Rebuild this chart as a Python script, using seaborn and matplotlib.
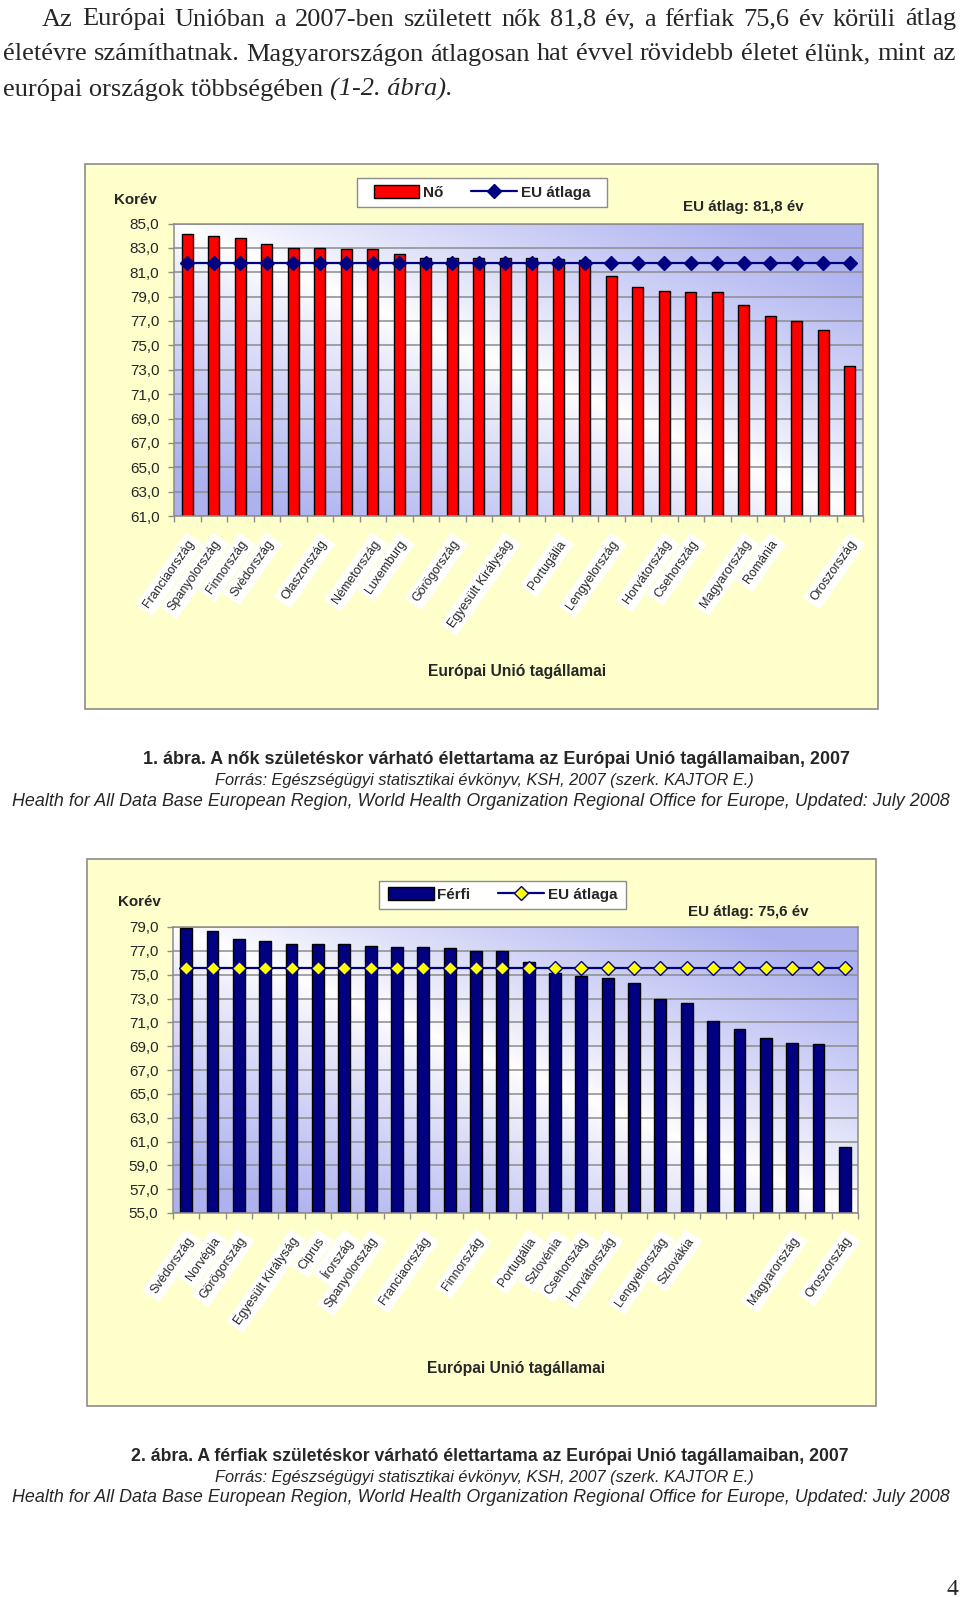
import numpy as np
import pandas as pd
import matplotlib
matplotlib.use('Agg')
import matplotlib.pyplot as plt
import seaborn as sns
from matplotlib.patches import Rectangle, Patch
from matplotlib.lines import Line2D
from matplotlib.ticker import FuncFormatter

# ---- data ----
women_countries = ['Franciaország', 'Spanyolország', 'Finnország', 'Svédország', 'Ausztria',
                   'Olaszország', 'Belgium', 'Németország', 'Luxemburg', 'Hollandia',
                   'Görögország', 'Írország', 'Egyesült Királyság', 'Ciprus', 'Portugália',
                   'Szlovénia', 'Lengyelország', 'Dánia', 'Horvátország', 'Csehország',
                   'Szlovákia', 'Magyarország', 'Románia', 'Bulgária', 'Lettország',
                   'Oroszország']
women_values = [84.1, 84.0, 83.8, 83.3, 83.0, 83.0, 82.9, 82.9, 82.5, 82.2,
                82.2, 82.2, 82.2, 82.2, 82.1, 82.0, 80.7, 79.8, 79.5, 79.4,
                79.4, 78.3, 77.4, 77.0, 76.3, 73.3]
women_ticklabels = ['Franciaország', 'Spanyolország', 'Finnország', 'Svédország', '',
                    'Olaszország', '', 'Németország', 'Luxemburg', '',
                    'Görögország', '', 'Egyesült Királyság', '', 'Portugália',
                    '', 'Lengyelország', '', 'Horvátország', 'Csehország',
                    '', 'Magyarország', 'Románia', '', '',
                    'Oroszország']
women_eu_avg = 81.8

men_countries = ['Svédország', 'Norvégia', 'Görögország', 'Olaszország', 'Egyesült Királyság',
                 'Ciprus', 'Írország', 'Spanyolország', 'Ausztria', 'Franciaország',
                 'Németország', 'Finnország', 'Belgium', 'Portugália', 'Szlovénia',
                 'Csehország', 'Horvátország', 'Dánia', 'Lengyelország', 'Szlovákia',
                 'Bulgária', 'Románia', 'Észtország', 'Magyarország', 'Lettország',
                 'Oroszország']
men_values = [78.9, 78.7, 78.0, 77.8, 77.6, 77.6, 77.6, 77.4, 77.3, 77.3,
              77.2, 77.0, 77.0, 76.1, 75.1, 74.9, 74.7, 74.3, 73.0, 72.6,
              71.1, 70.4, 69.7, 69.3, 69.2, 60.5]
men_ticklabels = ['Svédország', 'Norvégia', 'Görögország', '', 'Egyesült Királyság',
                  'Ciprus', 'Írország', 'Spanyolország', '', 'Franciaország',
                  '', 'Finnország', '', 'Portugália', 'Szlovénia',
                  'Csehország', 'Horvátország', '', 'Lengyelország', 'Szlovákia',
                  '', '', '', 'Magyarország', '',
                  'Oroszország']
men_eu_avg = 75.6

W, H = 960, 1597
sns.set_theme(style='white')
SANS = ['Liberation Sans', 'DejaVu Sans']
SERIF = ['Liberation Serif', 'DejaVu Serif']
plt.rcParams['font.family'] = SANS

fig = plt.figure(figsize=(W / 100, H / 100), dpi=100)
fig.patch.set_facecolor('white')
renderer = fig.canvas.get_renderer()


def fx(x):
    return x / W


def fy(y):
    return 1 - y / H


def width_of(t):
    return t.get_window_extent(renderer).width


def fit_text(cx, y, s, width, **kw):
    t = fig.text(fx(cx), fy(y), s, ha='center', va='baseline', fontsize=10, **kw)
    t.set_fontsize(10 * width / width_of(t))
    return t


def frame(l, t, r, b):
    fig.add_artist(Rectangle((fx(l), fy(b)), (r - l) / W, (b - t) / H, transform=fig.transFigure,
                             facecolor='#FFFFCC', edgecolor='#8C8C8C', lw=1.2, zorder=-5))


# ---- paragraph at the top (justified) ----
para = ['Az Európai Unióban a 2007-ben született nők 81,8 év, a férfiak 75,6 év körüli átlag',
        'életévre számíthatnak. Magyarországon átlagosan hat évvel rövidebb életet élünk, mint az']
t3a = fig.text(fx(3), fy(96), 'európai országok többségében ', family=SERIF, fontsize=16, va='baseline')
t3b = fig.text(0, fy(96), '(1-2. ábra).', family=SERIF, style='italic', fontsize=16, va='baseline')
size = 16 * 460 / (width_of(t3a) + width_of(t3b))
# keep the longest justified line from getting crammed
probe = fig.text(0, 0, para[1], family=SERIF, fontsize=size)
size = min(size, size * 945 / width_of(probe))
probe.remove()
t3a.set_fontsize(size)
t3b.set_fontsize(size)
t3b.set_x(fx(3 + width_of(t3a)))

for line, x0, base in [(para[0], 42, 25.5), (para[1], 3, 60.5)]:
    words = line.split()
    ts = [fig.text(0, fy(base), w, family=SERIF, fontsize=size, va='baseline') for w in words]
    ws = [width_of(t) for t in ts]
    gap = (956 - x0 - sum(ws)) / (len(ws) - 1)
    x = x0
    for t, w in zip(ts, ws):
        t.set_x(fx(x))
        x += w + gap


def lavender_bg(ax):
    gx, gy = np.meshgrid(np.linspace(0, 1, 300), np.linspace(1, 0, 150))
    d = np.clip(np.abs(gx - (1 - gy)) * 1.2, 0, 1) ** 0.85
    lav = np.array([0.68, 0.70, 0.94])
    img = (1 - d)[..., None] * np.ones(3) + d[..., None] * lav
    ax.imshow(img, extent=[0, 1, 0, 1], transform=ax.transAxes, aspect='auto', zorder=0,
              interpolation='bilinear')


def draw_chart(rect, countries, values, ticklabels, eu_avg, bar_color, bar_width,
               marker_face, ylim, frame_box, legend_box, bar_name, korev_xy, eu_xy, eu_text,
               xtitle_xy, caption, cap_y, cap_cx, cap_w):
    frame(*frame_box)
    ax = fig.add_axes(rect)
    lavender_bg(ax)
    df = pd.DataFrame({'country': countries, 'value': values})
    sns.barplot(data=df, x='country', y='value', color=bar_color, saturation=1,
                edgecolor='black', linewidth=1.0, width=bar_width, ax=ax, zorder=2)
    eu_line = pd.DataFrame({'country': countries, 'avg': [eu_avg] * len(countries)})
    sns.pointplot(data=eu_line, x='country', y='avg', color='#000080', markers='D',
                  errorbar=None, ax=ax, linewidth=1.6, markersize=6.8, markeredgewidth=1)
    ln = ax.lines[-1]
    ln.set_markerfacecolor(marker_face)
    ln.set_markeredgecolor('#000080')
    ln.set_zorder(3)

    ax.set_xlim(-0.5, len(countries) - 0.5)
    ax.set_ylim(*ylim)
    ax.set_yticks(np.arange(ylim[0], ylim[1] + 0.1, 2))
    ax.yaxis.set_major_formatter(FuncFormatter(lambda v, p: f'{v:.1f}'.replace('.', ',')))
    ax.grid(axis='y', color='#8C8C8C', lw=1.1, zorder=1)
    ax.set_axisbelow(True)
    for sp in ax.spines.values():
        sp.set_color('#8C8C8C')
        sp.set_linewidth(1.1)
    ax.tick_params(axis='y', labelsize=11, length=4.5, width=1, color='#8C8C8C', pad=6, left=True)
    ax.set_xticks(np.arange(len(countries)))
    ax.set_xticklabels(ticklabels, rotation=55, ha='right', rotation_mode='anchor', fontsize=9)
    ax.tick_params(axis='x', length=0, pad=16)
    ax.set_xticks(np.arange(-0.5, len(countries), 1), minor=True)
    ax.tick_params(axis='x', which='minor', length=4, width=1, color='#8C8C8C', bottom=True)
    for lab in ax.get_xticklabels():
        if lab.get_text():
            lab.set_bbox(dict(facecolor='white', edgecolor='none', pad=3))
    ax.set_xlabel('')
    ax.set_ylabel('')

    # legend in a white box
    l, t, r, b = legend_box
    fig.add_artist(Rectangle((fx(l), fy(b)), (r - l) / W, (b - t) / H, transform=fig.transFigure,
                             facecolor='white', edgecolor='#8C8C8C', lw=1, zorder=4))
    handles = [Patch(facecolor=bar_color, edgecolor='black', lw=1),
               Line2D([], [], color='#000080', lw=1.6, marker='D', markersize=7,
                      markerfacecolor=marker_face, markeredgecolor='#000080')]
    fig.legend(handles, [bar_name, 'EU átlaga'], loc='center', ncol=2, frameon=False,
               bbox_to_anchor=(fx((l + r) / 2), fy((t + b) / 2)),
               prop=dict(family=SANS, weight='bold', size=11),
               handlelength=3.0, handleheight=0.9, handletextpad=0.25, columnspacing=1.8)

    fit_text(korev_xy[0], korev_xy[1], 'Korév', 43, weight='bold')
    fit_text(eu_xy[0], eu_xy[1], eu_text, 121, weight='bold')
    fit_text(xtitle_xy[0], xtitle_xy[1], 'Európai Unió tagállamai', 178, weight='bold')

    fit_text(cap_cx, cap_y, caption, cap_w, weight='bold')
    fit_text(484, cap_y + 21, 'Forrás: Egészségügyi statisztikai évkönyv, KSH, 2007 (szerk. KAJTOR E.)',
             540, style='italic')
    fit_text(481, cap_y + 41.5,
             'Health for All Data Base European Region, World Health Organization Regional Office for Europe, Updated: July 2008',
             937, style='italic')
    return ax


def rect_px(l, t, r, b):
    return [l / W, 1 - b / H, (r - l) / W, (b - t) / H]


draw_chart(rect_px(174, 223.5, 863, 516), women_countries, women_values, women_ticklabels,
           women_eu_avg, '#FF0000', 0.42, '#000080', (61, 85), (84.5, 164, 877.5, 709.5),
           (357, 178, 607, 206.5), 'Nő', (135, 204), (743, 211), 'EU átlag: 81,8 év',
           (517, 676), '1. ábra. A nők születéskor várható élettartama az Európai Unió tagállamaiban, 2007',
           764, 496, 702)

draw_chart(rect_px(173, 927, 858, 1213), men_countries, men_values, men_ticklabels,
           men_eu_avg, '#000080', 0.45, '#FFFF00', (55, 79), (86.5, 858.5, 875.5, 1406),
           (379, 881, 626, 908.5), 'Férfi', (139, 906), (748, 916), 'EU átlag: 75,6 év',
           (516, 1373), '2. ábra. A férfiak születéskor várható élettartama az Európai Unió tagállamaiban, 2007',
           1461, 490, 715)

fig.text(fx(958), fy(1595), '4', family=SERIF, fontsize=17, ha='right', va='baseline')

fig.savefig('out.png', dpi=100)
